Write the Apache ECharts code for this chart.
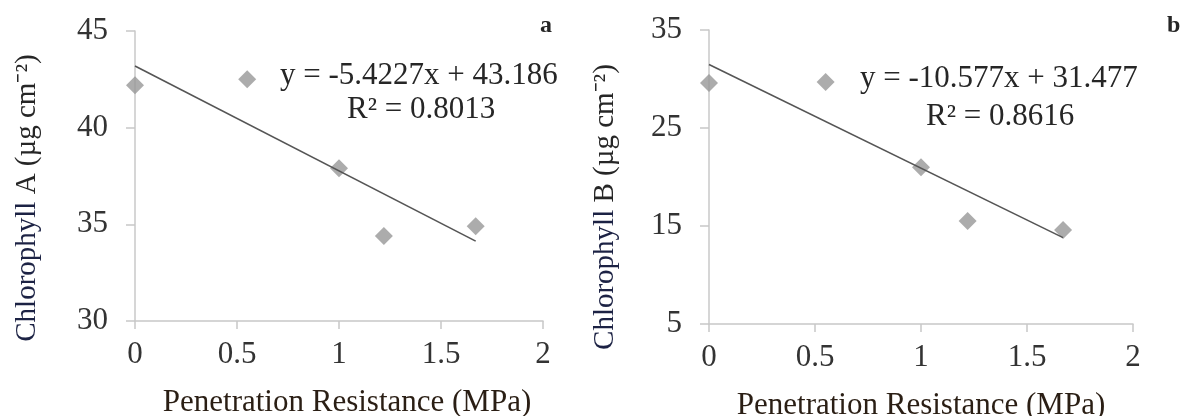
<!DOCTYPE html>
<html>
<head>
<meta charset="utf-8">
<script src="https://cdn.jsdelivr.net/npm/echarts@6/dist/echarts.min.js"></script>
<style>
html,body{margin:0;padding:0;background:#fff;}
#c{width:1182px;height:416px;}
</style>
</head>
<body>
<div id="c"></div>
<script>
// ---- data ----
const xA = [0, 0.55, 1, 1.22, 1.67];
const yA = [42.2, 42.5, 37.9, 34.4, 34.9];
const xB = [0, 0.55, 1, 1.22, 1.67];
const yB = [29.6, 29.7, 21.0, 15.5, 14.6];
// trendline coefficients as printed on the chart
const trendA = { slope: -5.4227, intercept: 43.186, r2: '0.8013', x0: 0, x1: 1.67 };
const trendB = { slope: -10.577, intercept: 31.477, r2: '0.8616', x0: 0, x1: 1.67 };
const xTicks = [0, 0.5, 1, 1.5, 2];
const yTicksA = [30, 35, 40, 45];
const yTicksB = [5, 15, 25, 35];
const xTitle = 'Penetration Resistance (MPa)';
const yTitleA = ['Chlorophyll', ' A (µg cm⁻²)'];
const yTitleB = ['Chlorophyll', ' B (µg cm⁻²)'];
const panelLabels = ['a', 'b'];

const FONT = "'Liberation Serif','Times New Roman',serif";
const TXT = '#262626';
const AX = '#c8c8c8';

function pts(xs, ys){ return xs.map((x,i)=>[x, ys[i]]); }
function trendPts(t){ return [[t.x0, t.intercept + t.slope*t.x0],[t.x1, t.intercept + t.slope*t.x1]]; }
function eqText(t){
  const s = t.slope < 0 ? '-' + Math.abs(t.slope) : String(t.slope);
  return 'y = ' + s + 'x + ' + t.intercept;
}

function xAxisCfg(gi, pad){
  return {
    gridIndex: gi, type: 'value', min: xTicks[0], max: xTicks[xTicks.length-1], interval: 0.5,
    name: xTitle, nameLocation: 'middle', nameGap: 66,
    nameTextStyle: { fontFamily: FONT, fontSize: 31, color: '#2a1e14', padding: pad },
    axisLine: { show: true, onZero: false, lineStyle: { color: AX, width: 1.5 } },
    axisTick: { show: true, inside: false, length: 8, lineStyle: { color: AX, width: 1.5 } },
    splitLine: { show: false },
    axisLabel: { fontFamily: FONT, fontSize: 31, color: '#333', margin: 18,
      formatter: v => String(v) }
  };
}
function yAxisCfg(gi, ticks, title, gap, pad){
  return {
    gridIndex: gi, type: 'value', min: ticks[0], max: ticks[ticks.length-1], interval: ticks[1]-ticks[0],
    name: '{c|' + title[0] + '}{r|' + title[1] + '}', nameLocation: 'middle', nameGap: gap, nameRotate: 90,
    nameTextStyle: { fontFamily: FONT, fontSize: 29, color: TXT, padding: pad,
      rich: { c: { fontFamily: FONT, fontSize: 29, color: '#1c2244' }, r: { fontFamily: FONT, fontSize: 29, color: TXT } } },
    axisLine: { show: true, onZero: false, lineStyle: { color: AX, width: 1.5 } },
    axisTick: { show: true, inside: false, length: 9, lineStyle: { color: AX, width: 1.5 } },
    splitLine: { show: false },
    axisLabel: { fontFamily: FONT, fontSize: 31, color: '#333', margin: 27 }
  };
}

const chart = echarts.init(document.getElementById('c'), null, { renderer: 'canvas' });
chart.setOption({
  backgroundColor: '#fff',
  animation: false,
  grid: [
    { left: 135, top: 31, width: 408, height: 290, outerBoundsMode: 'none', containLabel: false },
    { left: 709, top: 30, width: 424, height: 294, outerBoundsMode: 'none', containLabel: false }
  ],
  xAxis: [xAxisCfg(0, [0, 0, 0, 16]), xAxisCfg(1, [0, 0, 0, 0])],
  yAxis: [yAxisCfg(0, yTicksA, yTitleA, 93, [0, 44, 0, 0]), yAxisCfg(1, yTicksB, yTitleB, 89, [0, 60, 0, 0])],
  series: [
    { type: 'line', xAxisIndex: 0, yAxisIndex: 0, data: trendPts(trendA), showSymbol: false, symbol: 'none',
      lineStyle: { color: '#555', width: 1.6 }, z: 3 },
    { type: 'scatter', xAxisIndex: 0, yAxisIndex: 0, data: pts(xA, yA), symbol: 'diamond', symbolSize: 18,
      itemStyle: { color: '#979797' }, z: 2 },
    { type: 'line', xAxisIndex: 1, yAxisIndex: 1, data: trendPts(trendB), showSymbol: false, symbol: 'none',
      lineStyle: { color: '#555', width: 1.6 }, z: 3 },
    { type: 'scatter', xAxisIndex: 1, yAxisIndex: 1, data: pts(xB, yB), symbol: 'diamond', symbolSize: 18,
      itemStyle: { color: '#979797' }, z: 2 }
  ],
  graphic: [
    { type: 'text', left: 280, top: 60, style: { text: eqText(trendA), font: '31px ' + FONT, fill: TXT } },
    { type: 'text', left: 347, top: 94, style: { text: 'R² = ' + trendA.r2, font: '31px ' + FONT, fill: TXT } },
    { type: 'text', left: 860, top: 63, style: { text: eqText(trendB), font: '31px ' + FONT, fill: TXT } },
    { type: 'text', left: 926, top: 101, style: { text: 'R² = ' + trendB.r2, font: '31px ' + FONT, fill: TXT } },
    { type: 'text', left: 540, top: 14, style: { text: panelLabels[0], font: 'bold 24px ' + FONT, fill: TXT } },
    { type: 'text', left: 1167, top: 14, style: { text: panelLabels[1], font: 'bold 24px ' + FONT, fill: TXT } }
  ]
});
</script>
</body>
</html>
